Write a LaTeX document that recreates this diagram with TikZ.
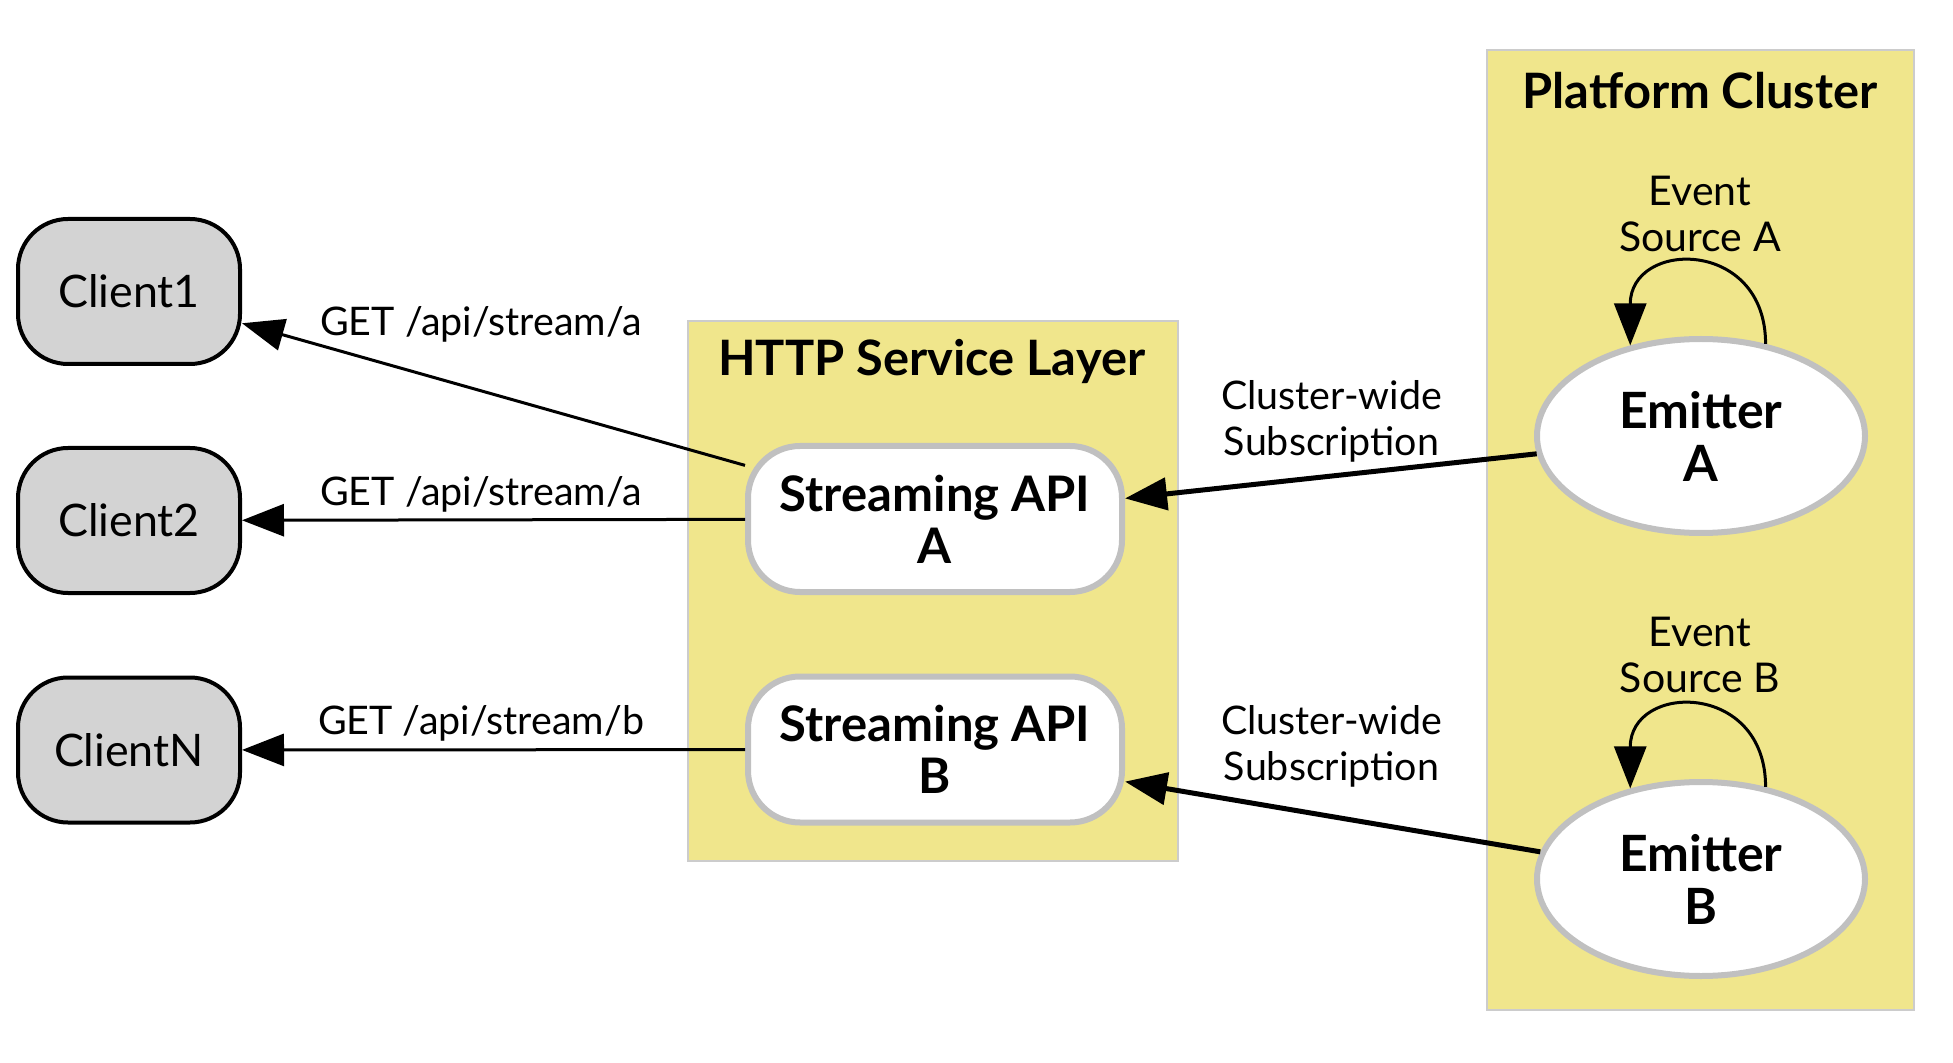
\documentclass[tikz,border=0pt]{standalone}
\usepackage{fontspec}
\setmainfont{Lato}
\usetikzlibrary{arrows.meta,shapes.geometric}
\definecolor{khakifill}{HTML}{F0E68C}
\definecolor{clborder}{HTML}{CCCCCC}
\definecolor{nodegray}{HTML}{C0C0C0}
\definecolor{clientfill}{HTML}{D3D3D3}
\begin{document}
\begin{tikzpicture}[x=0.5pt,y=-0.5pt,
  client/.style={draw=black, line width=2pt, fill=clientfill, rounded corners=25pt,
    minimum width=111pt, minimum height=72.5pt, inner sep=0pt, font=\fontsize{22.4}{26}\selectfont},
  api/.style={draw=nodegray, line width=3pt, fill=white, rounded corners=26pt,
    minimum width=187pt, minimum height=73pt, inner sep=0pt, align=center,
    font=\bfseries\fontsize{24.5}{26}\selectfont},
  emitter/.style={ellipse, draw=nodegray, line width=3pt, fill=white,
    minimum width=164pt, minimum height=97pt, inner sep=0pt, align=center,
    font=\bfseries\fontsize{25}{26.5}\selectfont},
  cluster/.style={draw=clborder, line width=1.2pt, fill=khakifill, inner sep=0pt},
  ctitle/.style={font=\bfseries\fontsize{24.4}{26}\selectfont},
  elabel/.style={font=\fontsize{19.7}{23}\selectfont, align=center, inner sep=0pt},
  slabel/.style={font=\fontsize{20.5}{23}\selectfont, align=center, inner sep=0pt},
  arr/.style={-{Triangle[length=21pt,width=16pt]}, line width=1.5pt},
  thickarr/.style={-{Triangle[length=21pt,width=16pt]}, line width=2.5pt}
]
\fill[white] (0,0) rectangle (1953,1063);
\useasboundingbox (0,0) rectangle (1953,1063);

% clusters
\node[cluster, minimum width=245pt, minimum height=270pt] (http) at (932.75,591) {};
\node[ctitle] (httptitle) at (931.6,361) {HTTP Service Layer};
\node[cluster, minimum width=213.5pt, minimum height=480pt] (plat) at (1700.5,530) {};
\node[ctitle] (plattitle) at (1700,91) {Platform Cluster};

% clients
\node[client] (c1) at (129,291.5) {Client1};
\node[client] (c2) at (129,520.5) {Client2};
\node[client] (cn) at (129,750) {ClientN};

% streaming APIs
\node[api] (sa) at (935,519) {Streaming API\\A};
\node[api] (sb) at (935,749.5) {Streaming API\\B};

% emitters
\node[emitter] (ea) at (1701,436) {Emitter\\A};
\node[emitter] (eb) at (1701,879) {Emitter\\B};

% edges to clients
\draw[arr] (sa) -- (c1);
\draw[arr] (sa) -- (c2);
\draw[arr] (sb) -- (cn);
\node[elabel] (l1) at (481,324) {GET /api/stream/a};
\node[elabel] (l2) at (481,494.5) {GET /api/stream/a};
\node[elabel] (l3) at (481,723.6) {GET /api/stream/b};

% subscriptions
\draw[thickarr] (ea) -- (sa);
\draw[thickarr] (eb) -- (sb);
\node[elabel] (s1) at (1331.5,421.6) {Cluster-wide\\Subscription};
\node[elabel] (s2) at (1331.5,746.6) {Cluster-wide\\Subscription};

% self loops
\draw[arr] (ea.55) .. controls +(0,-106) and +(0,-106) .. (ea.128);
\draw[arr] (eb.55) .. controls +(0,-106) and +(0,-106) .. (eb.128);
\node[slabel] (ev1) at (1700,213.5) {Event\\Source A};
\node[slabel] (ev2) at (1700,655) {Event\\Source B};
\end{tikzpicture}
\end{document}
